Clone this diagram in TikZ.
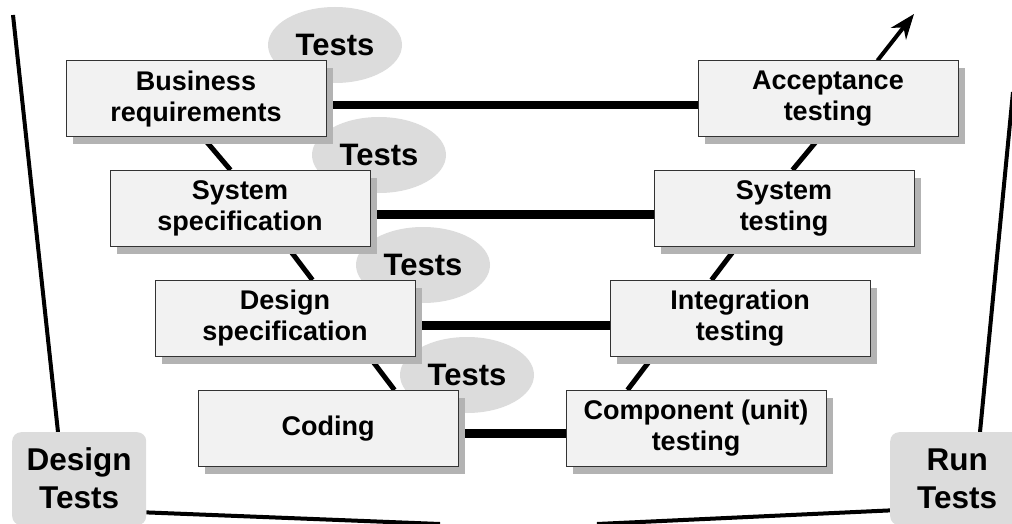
\documentclass[tikz,border=0pt]{standalone}
\usepackage{fontspec}
\setmainfont{Liberation Sans}
\usetikzlibrary{shadows,arrows.meta,shapes.geometric}
\definecolor{boxfill}{HTML}{F2F2F2}
\definecolor{boxshadow}{HTML}{B3B3B3}
\definecolor{ellfill}{HTML}{DCDCDC}
\definecolor{boxline}{HTML}{333333}
\pgfdeclarelayer{bg}
\pgfdeclarelayer{mid}
\pgfsetlayers{bg,mid,main}
\tikzset{
  vbox/.style={draw=boxline, line width=1pt, fill=boxfill, minimum width=260pt, minimum height=76pt,
    inner sep=0pt, align=center, font=\fontsize{27}{31}\selectfont\bfseries,
    drop shadow={fill=boxshadow, opacity=1, shadow xshift=7pt, shadow yshift=-7pt}},
  testell/.style={ellipse, fill=ellfill, minimum width=134pt, minimum height=76pt, inner sep=0pt,
    font=\fontsize{31}{36}\selectfont\bfseries},
  sidebox/.style={fill=ellfill, rounded corners=9pt, minimum width=134pt, minimum height=93pt, inner sep=0pt,
    align=center, font=\fontsize{31.5}{38}\selectfont\bfseries},
  hline/.style={line width=8.5pt},
  dline/.style={line width=5pt},
  oline/.style={line width=4pt},
}
\begin{document}
\begin{tikzpicture}[x=1pt,y=-1pt]
\useasboundingbox (0,0) rectangle (1012,524);
\clip (0,0) rectangle (1012,524);
% boxes
\node[vbox] (br) at (196,99) {Business\\requirements};
\node[vbox] (ss) at (240,208.5) {System\\specification};
\node[vbox] (ds) at (285,318.5) {Design\\specification};
\node[vbox] (cd) at (328,428.5) {Coding};
\node[vbox] (at) at (828,99) {Acceptance\\testing};
\node[vbox] (st) at (784,208.5) {System\\testing};
\node[vbox] (it) at (740,318.5) {Integration\\testing};
\node[vbox] (cu) at (696,428.5) {Component (unit)\\testing};
\begin{pgfonlayer}{bg}
\node[testell] (e1) at (335,45) {Tests};
\node[testell] (e2) at (379,155) {Tests};
\node[testell] (e3) at (423,265) {Tests};
\node[testell] (e4) at (467,375) {Tests};
\end{pgfonlayer}
% side boxes
\node[sidebox, anchor=north west] (dt) at (12,432) {Design\\Tests};
\node[sidebox, anchor=north west] (rt) at (890,432) {Run\\Tests};
\coordinate (lt) at (13,15);
\coordinate (rtop) at (1013,92);
\coordinate (bl) at (440,524);
\coordinate (br2) at (597,524);
\coordinate (tip) at (914,14);
\begin{pgfonlayer}{mid}
\draw[oline] (lt) -- ([xshift=46pt]dt.north west);
\draw[oline] (rtop) -- ([xshift=90pt]rt.north west);
\draw[oline] ([yshift=13pt]dt.south east) -- (bl);
\draw[oline] (br2) -- ([yshift=15pt]rt.south west);
\draw[hline] ([yshift=-6pt]br.east) -- ([yshift=-6pt]at.west);
\draw[hline] ([yshift=-6pt]ss.east) -- ([yshift=-6pt]st.west);
\draw[hline] ([yshift=-7pt]ds.east) -- ([yshift=-7pt]it.west);
\draw[hline] ([yshift=-5pt]cd.east) -- ([yshift=-5pt]cu.west);
\draw[dline] ([xshift=137.5pt]br.south west) -- ([xshift=121pt]ss.north west);
\draw[dline] ([xshift=178pt]ss.south west) -- ([xshift=158pt]ds.north west);
\draw[dline] ([xshift=215pt]ds.south west) -- ([xshift=197pt]cd.north west);
\draw[dline] ([xshift=139pt]st.north west) -- ([xshift=122pt]at.south west);
\draw[dline] ([xshift=102pt]it.north west) -- ([xshift=83pt]st.south west);
\draw[dline] ([xshift=62pt]cu.north west) -- ([xshift=43pt]it.south west);
\draw[oline, -{Stealth[length=25pt,width=19pt,inset=8pt]}] ([xshift=180pt]at.north west) -- (tip);
\end{pgfonlayer}
\end{tikzpicture}
\end{document}
